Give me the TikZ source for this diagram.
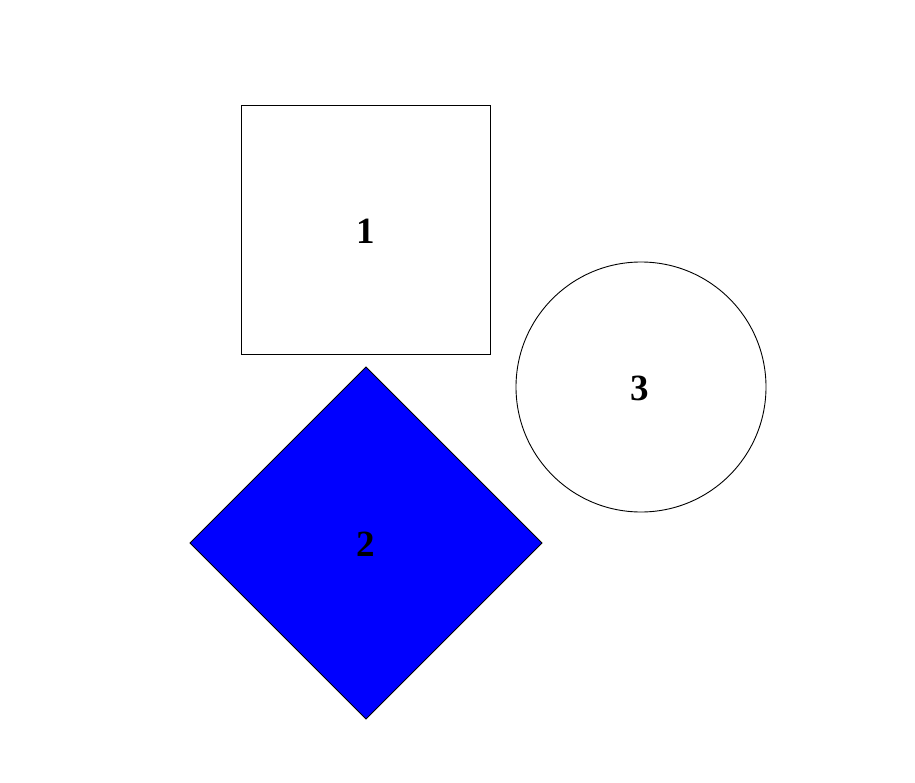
\documentclass[tikz,border=0pt]{standalone}
\usepackage{fontspec}
\setmainfont{Liberation Serif}
\begin{document}
\begin{tikzpicture}[x=1pt,y=-1pt,
  shapeline/.style={draw=black,line width=0.9pt},
  lbl/.style={font=\fontsize{37}{40}\selectfont\bfseries,inner sep=0pt}]
\useasboundingbox (0,0) rectangle (915,783);
\draw[shapeline,fill=white] (241,105) rectangle (490,354);
\node[lbl] (n1) at (365.5,231) {1};
\draw[shapeline,fill=blue] (366,367) -- (542,543) -- (366,719) -- (190,543) -- cycle;
\node[lbl] (n2) at (366,544) {2};
\draw[shapeline,fill=white] (641,387) circle[radius=125];
\node[lbl] (n3) at (640,388) {3};
\end{tikzpicture}
\end{document}
